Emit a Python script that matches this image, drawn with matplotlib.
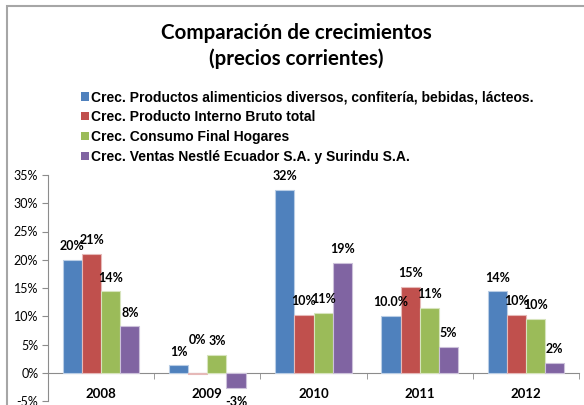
import numpy as np
import matplotlib
matplotlib.use('Agg')
import matplotlib.pyplot as plt
from matplotlib.patches import Rectangle, Patch

# datos
years = ['2008', '2009', '2010', '2011', '2012']
series_names = [
    'Crec. Productos alimenticios diversos, confitería, bebidas, lácteos.',
    'Crec. Producto Interno Bruto total',
    'Crec. Consumo Final Hogares',
    'Crec. Ventas Nestlé Ecuador S.A. y Surindu S.A.',
]
alimentos = [20.0, 1.3, 32.3, 10.0, 14.4]
pib = [21.0, -0.3, 10.2, 15.2, 10.2]
consumo = [14.4, 3.1, 10.6, 11.4, 9.5]
nestle = [8.2, -2.7, 19.4, 4.6, 1.8]
labels_alimentos = ['20%', '1%', '32%', '10.0%', '14%']
labels_pib = ['21%', '0%', '10%', '15%', '10%']
labels_consumo = ['14%', '3%', '11%', '11%', '10%']
labels_nestle = ['8%', '-3%', '19%', '5%', '2%']

series = [alimentos, pib, consumo, nestle]
series_labels = [labels_alimentos, labels_pib, labels_consumo, labels_nestle]
colors = ['#4F81BD', '#C0504D', '#9BBB59', '#8064A2']
edges = ['#B9CDE5', '#E6B9B8', '#D7E4BD', '#CCC1DA']

fig = plt.figure(figsize=(5.84, 4.05), dpi=100)
ax = fig.add_axes([48 / 584, 4 / 405, 531 / 584, 226 / 405])

x = np.arange(len(years))
w = 0.18
for i, (vals, labs) in enumerate(zip(series, series_labels)):
    pos = x + (i - 1.5) * w
    ax.bar(pos, vals, width=w, color=colors[i], edgecolor=edges[i], linewidth=0.8, zorder=3)
    for px, v, t in zip(pos, vals, labs):
        # la etiqueta 0% de 2009 esta desplazada en el original
        if v < 0 and t == '0%':
            off = 25
        elif v < 0:
            off = -10
        else:
            off = 10
        ax.annotate(t, (px, v), xytext=(0, off), textcoords='offset points',
                    ha='center', va='center', fontsize=9, fontweight='bold',
                    family='Lato', zorder=4)

ax.set_xlim(-0.5, len(years) - 0.5)
ax.set_ylim(-5, 35)
ax.set_yticks(np.arange(-5, 36, 5))
ax.set_yticklabels([f'{v}%' for v in range(-5, 36, 5)], family='Lato', fontsize=9)

ax.spines['top'].set_visible(False)
ax.spines['right'].set_visible(False)
ax.spines['bottom'].set_position(('data', 0))
ax.spines['bottom'].set_color('#8C8C8C')
ax.spines['left'].set_color('#8C8C8C')
ax.tick_params(axis='y', length=4, color='#8C8C8C', pad=3)

ax.set_xticks(x)
ax.set_xticklabels(years, fontweight='bold', family='Lato', fontsize=9.5)
ax.tick_params(axis='x', which='major', length=0, pad=11)
ax.set_xticks(np.arange(-0.5, len(years)), minor=True)
ax.tick_params(axis='x', which='minor', length=4, color='#8C8C8C', direction='out')

# titulo
fig.text(296 / 584, 1 - 33 / 405, 'Comparación de crecimientos', ha='center', va='center',
         fontsize=14.8, fontweight='bold', family='Lato')
fig.text(296 / 584, 1 - 59 / 405, '(precios corrientes)', ha='center', va='center',
         fontsize=14.8, fontweight='bold', family='Lato')

# leyenda
handles = [Patch(facecolor=c, edgecolor='none') for c in colors]
fig.legend(handles, series_names, loc='upper left', bbox_to_anchor=(81 / 584, 1 - 90 / 405),
           frameon=False, prop={'family': 'Liberation Sans', 'weight': 'bold', 'size': 10},
           handlelength=0.6, handleheight=0.6, handletextpad=0.15, labelspacing=0.43,
           borderpad=0, borderaxespad=0)

# borde del grafico
fig.add_artist(Rectangle((7 / 584, -0.1), 2, 1.1 - 6 / 405, transform=fig.transFigure,
                         fill=False, edgecolor='#A6A6A6', linewidth=1.5))

fig.savefig('out.png', dpi=100)
